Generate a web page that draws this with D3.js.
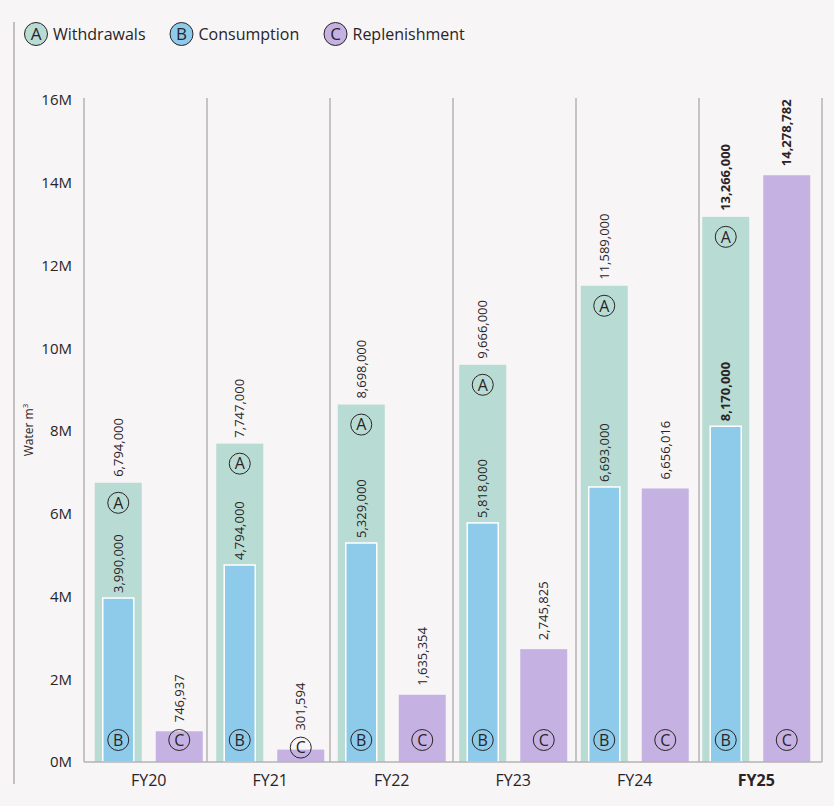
<!DOCTYPE html>
<html>
<head>
<meta charset="utf-8">
<title>Water</title>
<script src="https://cdn.jsdelivr.net/npm/d3@7"></script>
<style>
body { margin: 0; background: #f7f5f6; }
svg { display: block; font-family: "Open Sans", "Noto Sans", sans-serif; }
text { fill: #2a2326; }
</style>
</head>
<body>
<script>
var years = ["FY20", "FY21", "FY22", "FY23", "FY24", "FY25"];
var withdrawals = [6794000, 7747000, 8698000, 9666000, 11589000, 13266000];
var consumption = [3990000, 4794000, 5329000, 5818000, 6693000, 8170000];
var replenishment = [746937, 301594, 1635354, 2745825, 6656016, 14278782];
var yTicks = [0, 2e6, 4e6, 6e6, 8e6, 10e6, 12e6, 14e6, 16e6];
var legendItems = [
	{ letter: "A", name: "Withdrawals", color: "#b8dcd3" },
	{ letter: "B", name: "Consumption", color: "#8ecbea" },
	{ letter: "C", name: "Replenishment", color: "#c5b2e2" }
];

var w = 834, h = 806;
var svg = d3.select("body").append("svg").attr("width", w).attr("height", h);

var y = d3.scaleLinear().domain([0, 16e6]).range([762, 104.5]);
var yAxis = d3.scaleLinear().domain([0, 16e6]).range([762, 100]);
var xSep = d3.scaleBand().domain(years).range([84, 822]);
var x = d3.scaleBand().domain(years).range([88, 817]);
var fmt = d3.format(",");
var barW = 47, gap = 7, inset = 8;

// left rule
svg.append("line").attr("x1", 14).attr("x2", 14).attr("y1", 22).attr("y2", 784)
	.attr("stroke", "#c4c0c2").attr("stroke-width", 2);

// legend
var lg = svg.selectAll("g.leg").data(legendItems).enter().append("g")
	.attr("transform", function(d, i) { return "translate(" + [36, 181.5, 335.5][i] + ",34)"; });
lg.append("circle").attr("r", 11.5).attr("fill", function(d) { return d.color; })
	.attr("stroke", "#2a2326").attr("stroke-width", 1);
lg.append("text").attr("text-anchor", "middle").attr("dy", "0.36em").style("font-size", "17px")
	.text(function(d) { return d.letter; });
lg.append("text").attr("x", 17).attr("dy", "0.36em").style("font-size", "16px")
	.text(function(d) { return d.name; });

// y labels
svg.selectAll("text.yt").data(yTicks).enter().append("text")
	.attr("x", 72).attr("y", function(d) { return yAxis(d); }).attr("dy", "0.36em")
	.attr("text-anchor", "end").style("font-size", "15px")
	.text(function(d) { return (d / 1e6) + "M"; });

svg.append("text").attr("transform", "translate(33,430) rotate(-90)")
	.attr("text-anchor", "middle").style("font-size", "12px")
	.html('Water m<tspan dy="-5" style="font-size:8px">3</tspan>');

// bars
var groups = svg.selectAll("g.grp").data(years).enter().append("g")
	.attr("transform", function(d) { return "translate(" + (x(d) + x.bandwidth() / 2) + ",0)"; });

groups.append("rect").attr("x", -gap - barW).attr("width", barW)
	.attr("y", function(d, i) { return y(withdrawals[i]); })
	.attr("height", function(d, i) { return y(0) - y(withdrawals[i]); })
	.attr("fill", "#b8dcd3");

groups.append("rect").attr("x", -gap - barW + inset).attr("width", barW - 2 * inset)
	.attr("y", function(d, i) { return y(consumption[i]); })
	.attr("height", function(d, i) { return y(0) - y(consumption[i]); })
	.attr("fill", "#8ecbea").attr("stroke", "#ffffff").attr("stroke-width", 1.5);

groups.append("rect").attr("x", gap).attr("width", barW)
	.attr("y", function(d, i) { return y(replenishment[i]); })
	.attr("height", function(d, i) { return y(0) - y(replenishment[i]); })
	.attr("fill", "#c5b2e2");

// separators and axis
svg.selectAll("line.sep").data(years.concat(["end"])).enter().append("line")
	.attr("x1", function(d, i) { return i < years.length ? xSep(d) : xSep.range()[1]; })
	.attr("x2", function(d, i) { return i < years.length ? xSep(d) : xSep.range()[1]; })
	.attr("y1", 98).attr("y2", y(0))
	.attr("stroke", "#b4b2b3").attr("stroke-width", 1.5);
svg.append("line").attr("x1", 84).attr("x2", 822).attr("y1", y(0)).attr("y2", y(0))
	.attr("stroke", "#b4b2b3").attr("stroke-width", 1.5);

function circ(sel, cx, cy, letter) {
	sel.append("circle").attr("cx", cx).attr("cy", cy).attr("r", 10.5)
		.attr("fill", "none").attr("stroke", "#2a2326").attr("stroke-width", 1);
	sel.append("text").attr("x", cx).attr("y", cy).attr("dy", "0.36em")
		.attr("text-anchor", "middle").style("font-size", "16px").text(letter);
}

function vlabel(sel, cx, bottom, txt, bold) {
	sel.append("text").attr("transform", "translate(" + (cx + 4.5) + "," + bottom + ") rotate(-90)")
		.style("font-size", "13px").style("font-weight", bold ? "bold" : "normal").text(txt);
}

groups.each(function(d, i) {
	var g = d3.select(this);
	var bold = d === "FY25";
	var gx = -gap - barW / 2, px = gap + barW / 2;
	var gTop = y(withdrawals[i]), bTop = y(consumption[i]), pTop = y(replenishment[i]);
	circ(g, gx, gTop + 20, "A");
	circ(g, gx, y(0) - 22, "B");
	var cy = (y(0) - pTop) < 30 ? Math.max(pTop - 2, y(0) - 22) : y(0) - 22;
	circ(g, px, cy, "C");
	vlabel(g, gx, gTop - 6, fmt(withdrawals[i]), bold);
	vlabel(g, gx, bTop - 5, fmt(consumption[i]), bold);
	vlabel(g, px, Math.min(pTop - 9, cy - 17), fmt(replenishment[i]), bold);
});

// x labels
svg.selectAll("text.xl").data(years).enter().append("text")
	.attr("x", function(d) { return x(d) + x.bandwidth() / 2; }).attr("y", 786)
	.attr("text-anchor", "middle").style("font-size", "16px")
	.style("font-weight", function(d) { return d === "FY25" ? "bold" : "normal"; })
	.text(function(d) { return d; });
</script>
</body>
</html>
